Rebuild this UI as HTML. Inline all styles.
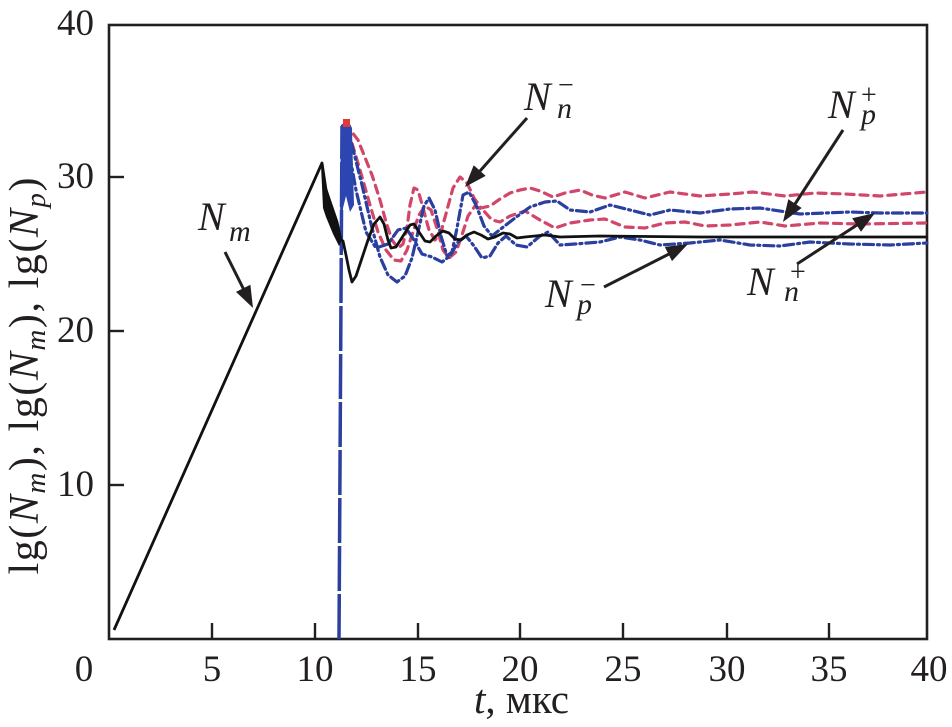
<!DOCTYPE html>
<html><head><meta charset="utf-8"><style>
html,body{margin:0;padding:0;background:#fff;}
svg{display:block;}
svg text{font-family:"Liberation Serif","Times New Roman",Times,serif;fill:#231f20;}
</style></head><body>
<svg width="952" height="727" viewBox="0 0 952 727" xmlns="http://www.w3.org/2000/svg" font-family="Liberation Serif, Times New Roman, serif">
<rect width="952" height="727" fill="#fff"/>
<!-- axes frame -->
<rect x="109" y="25" width="818" height="614" fill="none" stroke="#231f20" stroke-width="2.6"/>
<!-- ticks -->
<g stroke="#231f20" stroke-width="2.4">
<line x1="212" y1="639" x2="212" y2="623"/>
<line x1="315" y1="639" x2="315" y2="623"/>
<line x1="418" y1="639" x2="418" y2="623"/>
<line x1="520" y1="639" x2="520" y2="623"/>
<line x1="623" y1="639" x2="623" y2="623"/>
<line x1="727" y1="639" x2="727" y2="623"/>
<line x1="829" y1="639" x2="829" y2="623"/>
<line x1="109" y1="177" x2="124" y2="177"/>
<line x1="109" y1="331" x2="124" y2="331"/>
<line x1="109" y1="485" x2="124" y2="485"/>
</g>
<!-- tick labels -->
<g font-size="37" text-anchor="middle" font-family="Liberation Serif, serif">
<text x="84" y="681">0</text>
<text x="212" y="681">5</text>
<text x="315" y="681">10</text>
<text x="418" y="681">15</text>
<text x="520" y="681">20</text>
<text x="623" y="681">25</text>
<text x="727" y="681">30</text>
<text x="829" y="681">35</text>
<text x="929" y="681">40</text>
</g>
<g font-size="37" text-anchor="end" font-family="Liberation Serif, serif">
<text x="94" y="35">40</text>
<text x="94" y="188">30</text>
<text x="94" y="342">20</text>
<text x="94" y="496">10</text>
</g>
<!-- x title -->
<text x="474" y="713" font-size="41" font-family="Liberation Serif, serif"><tspan font-style="italic">t</tspan>, мкс</text>
<!-- y title -->
<text transform="translate(38,376) rotate(-90)" font-size="42" text-anchor="middle" textLength="397" lengthAdjust="spacing" font-family="Liberation Serif, serif">lg(<tspan font-style="italic">N</tspan><tspan font-style="italic" font-size="29" dy="7">m</tspan><tspan dy="-7">), lg(</tspan><tspan font-style="italic">N</tspan><tspan font-style="italic" font-size="29" dy="7">m</tspan><tspan dy="-7">), lg(</tspan><tspan font-style="italic">N</tspan><tspan font-style="italic" font-size="29" dy="7">p</tspan><tspan dy="-7">)</tspan></text>

<!-- series -->
<g fill="none" stroke-width="3.2" stroke-linejoin="round" stroke-linecap="round">
<polyline stroke="#d2466a" stroke-dasharray="8,6" points="345,123 358,140 372,175 380,200 386,222 392,240 398,248 403,244 407,228 410,205 414,188 418,190 423,208 429,230 435,240 441,232 447,210 453,188 460,177 467,183 474,198 481,208 490,206 500,199 510,193 520,190 530,188 540,191 553,197 565,193 580,190 592,195 605,198 625,192 645,198 670,192 700,196 730,194 753,192 785,196 815,193 845,194 880,196 927,192"/>
<polyline stroke="#d2466a" stroke-dasharray="8,6" points="348,130 360,170 370,205 378,232 386,250 394,260 401,261 407,250 413,232 419,215 425,206 431,210 437,228 443,250 449,258 456,252 462,235 468,216 475,206 483,210 492,220 500,222 510,216 525,211 540,220 555,228 570,223 590,220 605,219 625,227 645,228 665,223 685,222 705,226 730,225 760,222 785,226 820,223 860,224 927,223"/>
<polyline stroke="#2a3f9e" stroke-dasharray="10,4,2,4" points="345,125 352,145 362,185 372,228 380,257 388,275 397,282 405,276 412,258 418,232 424,206 429,198 435,210 441,236 447,256 452,252 457,228 463,195 469,192 476,205 484,226 492,236 502,228 515,218 530,207 545,202 557,201 570,210 590,212 610,205 630,210 650,215 670,210 700,213 730,209 760,208 800,214 850,212 880,213 927,213"/>
<polyline stroke="#2a3f9e" stroke-dasharray="10,4,2,4" points="346,135 356,190 366,232 376,248 388,244 398,230 406,228 414,240 422,254 432,257 442,262 450,256 458,242 466,236 474,246 482,258 490,256 498,243 506,236 516,245 527,247 540,236 548,232 560,245 575,244 600,242 620,237 640,240 660,245 690,243 720,240 750,245 780,246 810,242 850,244 890,245 927,243"/>
</g>
<!-- blue spike -->
<line x1="339" y1="639" x2="342" y2="126" stroke="#2a3f9e" stroke-width="3.5" stroke-dasharray="45,3"/>
<polygon fill="#2d45b0" points="341,125 348,120 352,128 353,170 354,205 350,212 346,196 343,208 341,250 340,200"/>
<rect x="343" y="119" width="7" height="8" fill="#e0393a"/>
<!-- black N_m -->
<polyline fill="none" stroke="#111" stroke-width="2.8" stroke-linejoin="round" points="114,630 322,163 326,190 337,222 341,240 343,241 346,255 349,270 352,282 356,276 362,258 368,240 374,224 380,217 384,224 388,240 391,248 396,247 403,236 410,225 414,224 419,232 425,241 430,242 436,236 443,231 449,233 455,239 461,240 467,235 474,232 481,235 488,239 495,237 503,233 510,234 517,238 525,237 535,236 545,235 560,237 600,236 700,237 927,237"/>
<polygon fill="#111" points="322,163 326,185 337,220 342,240 339,246 333,234 326,217 323,208 321,165"/>

<!-- arrows -->
<g stroke="#231f20" stroke-width="3">
<line x1="225" y1="252" x2="244" y2="290"/>
<line x1="527" y1="118" x2="480" y2="171"/>
<line x1="843" y1="130" x2="795" y2="204"/>
<line x1="604" y1="287" x2="669" y2="254"/>
<line x1="797" y1="264" x2="857" y2="225"/>
</g>
<g fill="#231f20">
<polygon points="253,308 236,291.9 250.4,284.7"/>
<polygon points="465,187 473.7,165.3 485.7,175.9"/>
<polygon points="783,222 788.3,199.2 801.7,208"/>
<polygon points="688,244 672,261.1 664.8,246.9"/>
<polygon points="875,213 861,231.7 852.2,218.3"/>
</g>

<!-- annotations -->
<g font-style="italic" font-family="Liberation Serif, serif">
<text x="198" y="230" font-size="40">N</text>
<text x="229" y="241" font-size="30">m</text>

<text x="524" y="110" font-size="40">N</text>
<text x="558" y="94" font-size="28" font-style="normal">−</text>
<text x="557" y="118" font-size="30">n</text>

<text x="828" y="118" font-size="40">N</text>
<text x="861" y="104" font-size="28" font-style="normal">+</text>
<text x="861" y="124" font-size="30">p</text>

<text x="545" y="307" font-size="40">N</text>
<text x="580" y="294" font-size="28" font-style="normal">−</text>
<text x="577" y="314" font-size="30">p</text>

<text x="747" y="295" font-size="40">N</text>
<text x="790" y="281" font-size="28" font-style="normal">+</text>
<text x="784" y="301" font-size="30">n</text>
</g>
</svg>
</body></html>
